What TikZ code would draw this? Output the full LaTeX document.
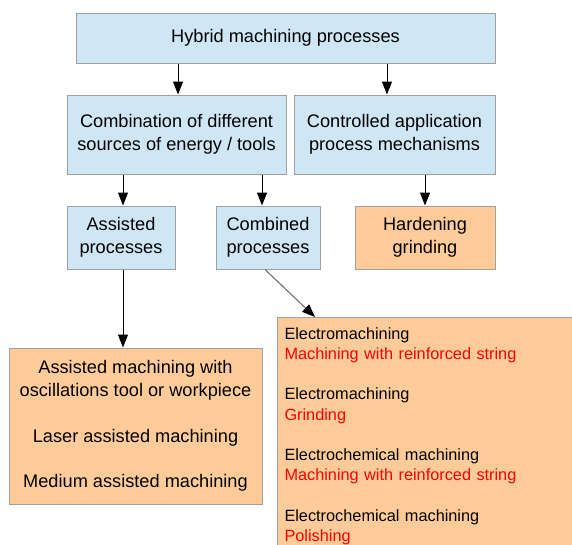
\documentclass[tikz,border=0pt]{standalone}
\usepackage{fontspec}
\setmainfont{Liberation Sans}
\usepackage{tikz}
\usetikzlibrary{positioning,arrows.meta}

\definecolor{boxblue}{HTML}{CFE7F5}
\definecolor{boxorange}{HTML}{FFCC99}
\definecolor{boxline}{HTML}{A0A0A0}

\begin{document}
\begin{tikzpicture}[x=1pt, y=-1pt,
        blue/.style={draw=boxline, line width=1pt, fill=boxblue, align=center, inner sep=0pt,
                     font=\fontsize{18.2pt}{22.7pt}\selectfont},
        orange/.style={blue, fill=boxorange},
        arr/.style={-{Triangle[length=13pt, width=10pt, color=black]}, line width=1pt}]
                \useasboundingbox (0,0) rectangle (572,544);
                % top level
                \node [blue, minimum width=419pt, minimum height=50pt] (top) at (285.5,38) {Hybrid machining processes};
                \node [blue, minimum width=219pt, minimum height=79pt] (combo) at (176.5,134.5) {Combination of different\\sources of energy / tools};
                \node [blue, minimum width=201pt, minimum height=79pt] (ctrl) at (394.5,134.5) {Controlled application\\process mechanisms};
                % third row
                \node [blue, minimum width=108pt, minimum height=63pt] (assisted) at (121,237.5) {Assisted\\processes};
                \node [blue, minimum width=104pt, minimum height=63pt] (combined) at (268,237.5) {Combined\\processes};
                \node [orange, minimum width=140pt, minimum height=63pt] (harden) at (425,237.5) {Hardening\\grinding};
                % lists
                \node [orange, minimum width=253pt, minimum height=156pt] (alist) at (135.5,426)
                    {Assisted machining with\\oscillations tool or workpiece\\[22.7pt]Laser assisted machining\\[22.7pt]Medium assisted machining};
                \node [orange, anchor=north west, align=left, text width=340pt, inner xsep=7pt, inner ysep=10pt,
                       font=\fontsize{16.3pt}{20.2pt}\selectfont] (clist) at (277,317)
                    {Electromachining\\\textcolor{red}{Machining with reinforced string}\\[20.2pt]
                     Electromachining\\\textcolor{red}{Grinding}\\[20.2pt]
                     Electrochemical machining\\\textcolor{red}{Machining with reinforced string}\\[20.2pt]
                     Electrochemical machining\\\textcolor{red}{Polishing}\\[40pt]};
                % connectors
                \draw [arr] ([xshift=1.5pt]combo.north |- top.south) -- ([xshift=1.5pt]combo.north);
                \draw [arr] ([xshift=-7.5pt]ctrl.north |- top.south) -- ([xshift=-7.5pt]ctrl.north);
                \draw [arr] ([xshift=2pt]assisted.north |- combo.south) -- ([xshift=2pt]assisted.north);
                \draw [arr] ([xshift=-6pt]combined.north |- combo.south) -- ([xshift=-6pt]combined.north);
                \draw [arr] (harden.north |- ctrl.south) -- (harden.north);
                \draw [arr] ([xshift=2pt]assisted.south) -- ([xshift=2pt]assisted.south |- alist.north);
                \draw [arr, draw=black!60] ([xshift=-3pt]combined.south) -- ([xshift=38pt]clist.north west);
            \end{tikzpicture}
\end{document}
